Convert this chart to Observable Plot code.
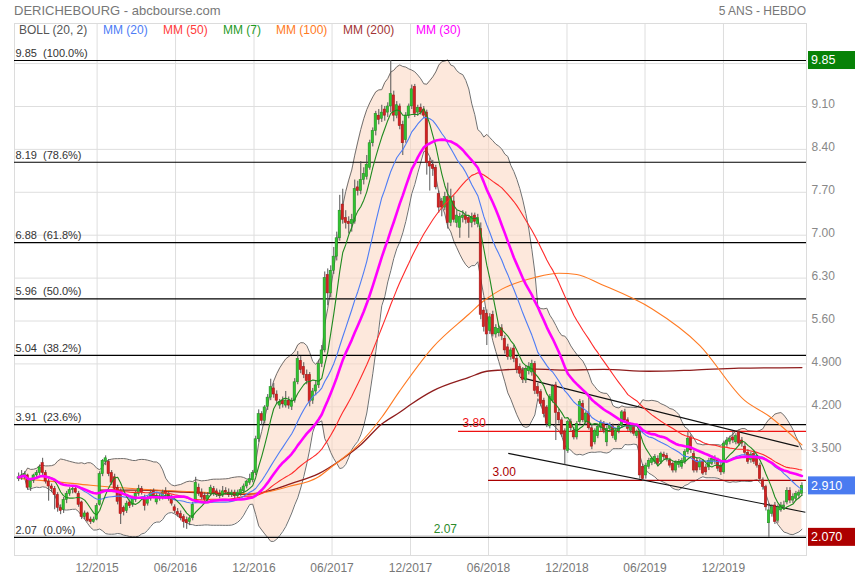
<!DOCTYPE html>
<html><head><meta charset="utf-8">
<script src="https://cdn.jsdelivr.net/npm/d3@7"></script>
<script src="https://cdn.jsdelivr.net/npm/@observablehq/plot@0.6"></script>
<style>
body{margin:0;background:#fff;font-family:"Liberation Sans",Arial,sans-serif;}
#wrap{position:relative;width:855px;height:580px;overflow:hidden;}
.hd{position:absolute;top:4px;font-size:13px;line-height:14px;color:#777;white-space:nowrap;}
#chart{position:absolute;left:0;top:23px;}
.lg{position:absolute;top:23px;font-size:12px;line-height:14px;white-space:nowrap;}
</style></head>
<body><div id="wrap">
<div class="hd" style="left:14px">DERICHEBOURG - abcbourse.com</div>
<div class="hd" style="right:49px;font-size:12px">5 ANS - HEBDO</div>
<div id="chart"></div>
<div id="legend"></div>
</div>
<script>
// ---- weekly OHLC (one candle per week from 2015-06-01) ----
const open = [3.02,3.05,3.08,3.08,2.88,2.99,3.08,3.12,3.28,3.12,2.98,2.90,2.86,2.76,2.55,2.52,2.68,2.78,2.84,2.86,2.78,2.64,2.40,2.46,2.36,2.32,2.36,2.60,3.10,3.30,3.30,3.12,3.05,2.88,2.82,2.55,2.50,2.64,2.60,2.68,2.78,2.86,2.72,2.62,2.70,2.82,2.64,2.70,2.72,2.82,2.78,2.72,2.56,2.48,2.45,2.40,2.35,2.32,2.38,2.66,2.88,2.80,2.75,2.68,2.78,2.86,2.82,2.78,2.75,2.83,2.80,2.76,2.80,2.74,2.78,2.82,2.90,2.96,3.00,
3.12,3.67,4.08,3.97,4.20,4.35,4.50,4.40,4.22,4.30,4.22,4.30,4.20,4.30,4.60,4.95,4.85,4.72,4.72,4.30,4.45,4.55,4.90,5.12,6.35,6.05,6.42,6.65,6.95,7.50,7.28,7.22,7.18,7.22,7.78,7.72,7.90,7.95,8.10,8.50,8.70,8.95,8.90,9.05,9.00,9.10,9.28,8.95,9.10,8.80,8.55,8.95,9.10,9.42,9.00,9.08,9.05,
9.00,8.20,8.15,8.10,7.67,7.55,7.45,7.62,7.20,7.55,7.20,7.12,7.28,7.32,7.28,7.20,7.32,7.18,7.10,5.77,5.72,5.44,5.70,5.38,5.40,5.48,5.31,5.17,5.01,5.15,4.98,4.85,4.79,4.63,4.78,4.76,4.90,4.52,4.44,4.30,4.19,3.88,4.30,4.55,4.10,3.98,3.80,3.48,3.95,3.81,3.70,3.95,4.25,3.95,4.09,3.85,3.62,3.72,3.86,3.92,3.62,3.84,3.88,3.66,3.80,3.89,4.11,3.98,3.81,3.89,3.72,3.79,3.22,
3.08,3.22,3.28,3.30,3.35,3.30,3.42,3.40,3.32,3.27,3.16,3.25,3.22,3.30,3.46,3.70,3.43,3.32,3.21,3.30,3.21,3.21,3.27,3.32,3.32,3.24,3.13,3.58,3.63,3.70,3.62,3.79,3.65,3.55,3.45,3.33,3.43,3.35,3.24,3.00,2.89,2.30,2.45,2.59,2.34,2.51,2.56,2.64,2.83,2.67,2.70,2.75,2.78];
const high = [3.12,3.16,3.14,3.10,3.02,3.10,3.16,3.25,3.36,3.16,3.02,2.94,2.90,2.80,2.60,2.72,2.82,2.88,2.90,2.90,2.82,2.66,2.50,2.48,2.40,2.40,2.62,3.14,3.34,3.40,3.34,3.16,3.10,2.92,2.86,2.58,2.66,2.68,2.74,2.82,2.92,2.90,2.76,2.74,2.84,2.86,2.78,2.78,2.84,2.88,2.82,2.76,2.60,2.54,2.50,2.44,2.40,2.42,2.64,3.05,2.94,2.86,2.80,2.80,2.92,2.90,2.86,2.84,2.90,2.88,2.86,2.84,2.84,2.84,2.88,2.94,3.00,3.10,3.16,
3.72,4.15,4.12,4.22,4.40,4.65,4.58,4.46,4.32,4.36,4.45,4.36,4.34,4.66,5.10,5.02,4.92,4.80,4.76,4.50,4.62,4.96,5.20,6.40,6.45,6.50,6.80,7.05,7.65,7.75,7.40,7.30,7.34,7.90,7.88,8.20,8.10,8.30,8.55,8.75,9.02,9.05,9.12,9.10,9.16,9.85,9.35,9.18,9.14,8.86,9.00,9.14,9.45,9.46,9.12,9.14,9.10,
9.04,8.26,8.22,8.14,7.72,7.60,7.70,7.85,7.75,7.64,7.40,7.36,7.40,7.38,7.32,7.36,7.36,7.34,7.20,5.82,5.78,5.72,5.76,5.54,5.52,5.54,5.36,5.22,5.16,5.20,5.02,4.90,4.84,4.86,4.92,4.96,4.94,4.58,4.48,4.34,4.22,4.40,4.56,4.60,4.16,4.02,3.84,3.98,4.00,3.86,3.96,4.32,4.30,4.12,4.35,3.90,3.84,3.90,3.98,3.96,3.88,3.94,3.92,3.84,3.92,4.14,4.16,4.02,3.92,3.92,3.82,3.82,3.26,
3.28,3.36,3.38,3.42,3.40,3.46,3.46,3.44,3.36,3.30,3.32,3.34,3.36,3.50,3.78,3.74,3.48,3.36,3.34,3.34,3.26,3.36,3.40,3.40,3.36,3.28,3.64,3.70,3.72,3.80,3.76,3.82,3.70,3.60,3.50,3.46,3.48,3.40,3.28,3.04,2.92,2.62,2.60,2.64,2.60,2.64,2.66,2.88,2.88,2.78,2.82,2.84,2.96];
const low = [2.98,3.00,3.02,2.84,2.82,2.95,3.04,3.08,3.08,2.94,2.66,2.80,2.52,2.48,2.44,2.46,2.62,2.74,2.78,2.78,2.56,2.36,2.36,2.32,2.28,2.30,2.34,2.58,3.06,3.24,3.06,2.92,2.82,2.60,2.28,2.42,2.46,2.54,2.56,2.64,2.74,2.76,2.50,2.58,2.66,2.70,2.60,2.66,2.68,2.74,2.66,2.58,2.46,2.40,2.34,2.22,2.20,2.26,2.34,2.62,2.74,2.68,2.64,2.64,2.74,2.74,2.72,2.70,2.72,2.76,2.72,2.72,2.70,2.70,2.74,2.78,2.86,2.92,2.96,
3.08,3.62,3.90,3.92,4.14,4.30,4.34,4.24,4.16,4.18,4.18,4.16,4.14,4.26,4.56,4.74,4.66,4.56,4.20,4.24,4.38,4.50,4.84,5.08,5.85,5.98,6.36,6.58,6.90,7.18,7.10,7.02,7.05,7.18,7.64,7.66,7.82,7.90,8.06,8.44,8.62,8.80,8.84,8.86,8.92,9.00,8.85,8.90,8.72,8.30,8.50,8.90,9.05,8.92,8.94,8.96,8.90,
7.98,7.72,7.96,7.74,7.36,7.30,7.40,7.10,7.14,7.20,7.12,6.95,7.20,7.18,6.95,7.12,7.16,7.12,5.62,5.42,5.20,5.38,5.34,5.32,5.34,5.28,5.06,4.96,4.96,4.92,4.74,4.68,4.58,4.58,4.72,4.70,4.40,4.36,4.20,4.02,3.86,3.84,4.26,3.65,3.92,3.70,3.25,3.44,3.80,3.66,3.66,3.90,3.94,3.90,3.82,3.50,3.58,3.68,3.80,3.76,3.55,3.78,3.68,3.62,3.76,3.86,3.94,3.80,3.76,3.72,3.68,3.02,2.98,
3.02,3.18,3.24,3.26,3.22,3.26,3.34,3.30,3.20,3.12,3.12,3.20,3.18,3.26,3.42,3.44,3.12,3.12,3.16,3.08,3.08,3.16,3.24,3.26,3.14,3.08,3.10,3.54,3.58,3.60,3.58,3.56,3.54,3.40,3.26,3.28,3.26,3.20,2.98,2.84,2.50,2.07,2.40,2.28,2.30,2.48,2.52,2.60,2.62,2.62,2.66,2.70,2.74];
const close = [3.05,3.08,3.10,2.88,2.99,3.08,3.12,3.21,3.12,2.98,2.90,2.86,2.76,2.55,2.50,2.68,2.78,2.84,2.86,2.80,2.60,2.40,2.46,2.34,2.32,2.36,2.58,3.10,3.32,3.36,3.10,2.96,2.86,2.65,2.45,2.48,2.62,2.58,2.70,2.78,2.86,2.80,2.58,2.70,2.80,2.74,2.75,2.74,2.80,2.78,2.70,2.62,2.50,2.44,2.38,2.32,2.30,2.38,2.60,2.96,2.78,2.72,2.68,2.75,2.88,2.78,2.76,2.74,2.82,2.80,2.76,2.80,2.74,2.80,2.84,2.90,2.98,3.02,3.12,
3.67,4.08,3.97,4.19,4.35,4.52,4.40,4.30,4.28,4.24,4.30,4.22,4.30,4.60,4.98,4.80,4.72,4.62,4.28,4.45,4.55,4.90,5.12,6.30,6.05,6.42,6.65,6.95,7.40,7.25,7.20,7.18,7.25,7.75,7.72,7.90,8.00,8.15,8.50,8.70,8.98,8.88,9.00,8.95,9.10,9.30,8.95,9.12,8.78,8.50,8.95,9.10,9.38,8.98,9.08,9.00,8.95,
8.18,8.12,8.08,7.78,7.45,7.45,7.62,7.20,7.62,7.25,7.32,7.30,7.32,7.25,7.20,7.30,7.22,7.28,5.70,5.50,5.38,5.66,5.38,5.49,5.47,5.35,5.12,5.01,5.12,4.98,4.80,4.74,4.64,4.82,4.85,4.90,4.46,4.41,4.25,4.08,3.92,4.36,4.52,4.10,3.98,3.75,3.50,3.95,3.85,3.70,3.92,4.28,3.98,4.09,3.85,3.55,3.81,3.87,3.94,3.81,3.84,3.89,3.72,3.81,3.88,4.11,3.98,3.84,3.89,3.76,3.79,3.08,3.02,
3.24,3.32,3.35,3.38,3.27,3.43,3.38,3.35,3.24,3.16,3.28,3.30,3.32,3.46,3.68,3.49,3.16,3.16,3.30,3.11,3.13,3.32,3.35,3.34,3.19,3.13,3.60,3.65,3.68,3.65,3.72,3.60,3.60,3.45,3.30,3.42,3.30,3.24,3.02,2.89,2.56,2.51,2.56,2.32,2.56,2.59,2.59,2.83,2.67,2.73,2.78,2.80,2.91];

// ---- long moving averages (week index, value) ----
const ma100Week = [0,12,24,40,60,78,90,100,104,113,121,127,138,150,155,161,172,180,186,194,211,227,242,250,261];
const ma100Val  = [3.03,2.98,2.92,2.86,2.81,2.78,2.90,3.06,3.21,3.57,4.03,4.46,5.17,5.71,5.93,6.12,6.31,6.38,6.36,6.20,5.80,5.20,4.30,4.05,3.58];
const ma200Week = [27,40,55,65,74,81,91,100,107,114,121,127,131,138,150,156,161,170,181,195,210,225,240,261];
const ma200Val  = [2.84,2.84,2.81,2.79,2.77,2.80,2.95,3.11,3.32,3.58,3.92,4.11,4.25,4.46,4.68,4.78,4.80,4.82,4.80,4.81,4.78,4.80,4.83,4.84];

// ---- Fibonacci retracement levels ----
const fibValues = [9.85, 8.19, 6.88, 5.96, 5.04, 3.91, 2.07];
const fibPct = ["100.0%", "78.6%", "61.8%", "50.0%", "38.2%", "23.6%", "0.0%"];

// ---- support / resistance & channel ----
const levelValues = [3.80, 3.00];
const levelStart = ["2018-03-23", "2018-06-01"];
const levelColors = ["#ee1111", "#aa0000"];
const lowLabelValue = 2.07, lowLabelDate = "2018-01-24";
const trendStart = ["2018-08-14", "2018-07-17"];
const trendEnd = ["2020-05-24", "2020-06-09"];
const trendV1 = [4.68, 3.44];
const trendV2 = [3.55, 2.48];

// ---- axes ----
const xTickDates = ["2015-12-01","2016-06-01","2016-12-01","2017-06-01","2017-12-01","2018-06-01","2018-12-01","2019-06-01","2019-12-01"];
const xTickLabels = ["12/2015","06/2016","12/2016","06/2017","12/2017","06/2018","12/2018","06/2019","12/2019"];
const yTicks = [2.1, 2.8, 3.5, 4.2, 4.9, 5.6, 6.3, 7.0, 7.7, 8.4, 9.1, 9.8];

// ---- legend ----
const legendNames = ["BOLL (20, 2)", "MM (20)", "MM (50)", "MM (7)", "MM (100)", "MM (200)", "MM (30)"];
const legendColors = ["#555555", "#4d7cf5", "#ff3b3b", "#1f9a1f", "#ff7a22", "#a33434", "#ff00ff"];
const legendLeft = [19, 103, 163, 223, 276, 343, 416];

// ---------------------------------------------------------------
const start = Date.UTC(2015, 5, 1);
const DAY = 864e5;
const dateOf = i => new Date(start + i * 7 * DAY);
const pd = s => new Date(s + "T00:00:00Z");
const fmt = v => v < 5 ? v.toFixed(3) : v.toFixed(2);

const candles = close.map((c, i) => ({date: dateOf(i), o: open[i], h: high[i], l: low[i], c}));

function sma(arr, k) {
  return arr.map((_, i) => d3.mean(arr.slice(Math.max(0, i - k + 1), i + 1)));
}
const m7 = sma(close, 7), m20 = sma(close, 20), m30 = sma(close, 30), m50 = sma(close, 50);
const ind = close.map((c, i) => {
  const w = close.slice(Math.max(0, i - 19), i + 1);
  const m = d3.mean(w);
  const sd = Math.sqrt(d3.mean(w, v => (v - m) ** 2));
  return {date: dateOf(i), m7: m7[i], m20: m20[i], m30: m30[i], m50: m50[i], up: m + 2 * sd, lo: m - 2 * sd};
});
const ma100 = ma100Week.map((w, j) => ({date: dateOf(w), v: ma100Val[j]}));
const ma200 = ma200Week.map((w, j) => ({date: dateOf(w), v: ma200Val[j]}));

const x0 = new Date(Date.UTC(2015, 4, 22, 8)), x1 = new Date(Date.UTC(2020, 5, 11, 16));
const msPerPx = (x1 - x0) / 792;
const hw = 1.15 * msPerPx;

// value boxes on the right axis (max high, last close, min low)
const boxes = [
  {v: d3.max(high), color: "#078207"},
  {v: close[close.length - 1], color: "#4a7bf0"},
  {v: d3.min(low), color: "#ad0000"}
];
const pxPerUnit = 532 / (10.454 - 1.774);
// tick labels hidden behind a value box are not drawn (the box covers them)
const shownTicks = yTicks.filter(t => boxes.every(b => Math.abs(t - b.v) * pxPerUnit > 11));

const fib = fibValues.map((v, j) => ({v, label: v.toFixed(2) + "\u00a0\u00a0(" + fibPct[j] + ")"}));
const levels = levelValues.map((v, j) => ({v, d: pd(levelStart[j]), color: levelColors[j]}));
const trends = trendV1.map((v, j) => ({a: pd(trendStart[j]), b: pd(trendEnd[j]), v1: v, v2: trendV2[j]}));
const xt = xTickDates.map((d, j) => ({d: pd(d), label: xTickLabels[j]}));

const plot = Plot.plot({
  width: 855, height: 557,
  marginLeft: 14, marginRight: 49, marginTop: 0, marginBottom: 25,
  x: {type: "utc", domain: [x0, x1], axis: null},
  y: {domain: [1.774, 10.454], axis: null},
  style: {fontFamily: "Liberation Sans, Arial, sans-serif", background: "white", overflow: "visible"},
  marks: [
    Plot.ruleX(xt, {x: "d", stroke: "#dedede"}),
    Plot.ruleY(yTicks, {stroke: "#dedede"}),
    Plot.frame({stroke: "#dcdcdc"}),
    Plot.areaY(ind, {x: "date", y1: "lo", y2: "up", fill: "#fbd6c0", fillOpacity: 0.55, curve: "linear"}),
    Plot.lineY(ind, {x: "date", y: "up", stroke: "#707070", strokeWidth: 1}),
    Plot.lineY(ind, {x: "date", y: "lo", stroke: "#707070", strokeWidth: 1}),
    Plot.ruleY(fib, {y: "v", stroke: "#000", strokeWidth: 1.2}),
    Plot.text(fib, {y: "v", text: "label", frameAnchor: "left", textAnchor: "start", dx: 1, dy: -7, fill: "#333", fontSize: 11}),
    Plot.ruleY(levels, {y: "v", x1: "d", x2: () => x1, stroke: "color", strokeWidth: 1.1, strokeDasharray: (d, j) => j === 0 ? "4,3" : null}),
    Plot.text(levels, {x: "d", y: "v", text: d => d.v.toFixed(2), fill: "color", textAnchor: "start", dx: 4, dy: -8, fontSize: 12}),
    Plot.text([lowLabelValue], {x: () => pd(lowLabelDate), y: d => d, text: d => d.toFixed(2), fill: "#2a8a2a", textAnchor: "start", dy: -8, fontSize: 12}),
    Plot.link(trends, {x1: "a", y1: "v1", x2: "b", y2: "v2", stroke: "#111", strokeWidth: 1.1}),
    Plot.lineY(ma200, {x: "date", y: "v", stroke: "#8f1d1d", strokeWidth: 1.3, curve: "monotone-x"}),
    Plot.lineY(ma100, {x: "date", y: "v", stroke: "#ff7a22", strokeWidth: 1.1, curve: "monotone-x"}),
    Plot.ruleX(candles, {x: "date", y1: "l", y2: "h", stroke: "#555", strokeWidth: 1}),
    Plot.rect(candles, {x1: d => new Date(+d.date - hw), x2: d => new Date(+d.date + hw), y1: "o", y2: "c",
      fill: d => d.c >= d.o ? "#2fc42f" : "#d42020", stroke: d => d.c >= d.o ? "#1c861c" : "#9a1414", strokeWidth: 0.5}),
    Plot.lineY(ind, {x: "date", y: "m50", stroke: "#ff2b2b", strokeWidth: 1.1}),
    Plot.lineY(ind, {x: "date", y: "m20", stroke: "#4d7cf5", strokeWidth: 1.1}),
    Plot.lineY(ind, {x: "date", y: "m7", stroke: "#1f8a1f", strokeWidth: 1.1}),
    Plot.lineY(ind, {x: "date", y: "m30", stroke: "#ff00ff", strokeWidth: 2.6}),
    Plot.text(shownTicks, {y: d => d, text: d => fmt(d), frameAnchor: "right", textAnchor: "start", dx: 5, dy: -2, fill: "#888", fontSize: 12}),
    Plot.text(xt, {x: "d", text: "label", frameAnchor: "bottom", dy: 16, fill: "#777", fontSize: 12})
  ]
});
document.getElementById("chart").appendChild(plot);

// draw the value boxes with the plot's own y scale
const ys = plot.scale("y");
const svg = d3.select(plot);
for (const b of boxes) {
  const y = ys.apply(b.v);
  svg.append("rect").attr("x", 808).attr("y", y - 9).attr("width", 47).attr("height", 18).attr("fill", b.color);
  svg.append("text").attr("x", 811).attr("y", y).attr("dy", "0.35em").attr("fill", "#fff")
    .attr("text-anchor", "start").attr("font-size", 12.5)
    .attr("font-family", "Liberation Sans, Arial, sans-serif").text(fmt(b.v));
}

// legend row
const lg = document.getElementById("legend");
legendNames.forEach((n, j) => {
  const s = document.createElement("div");
  s.className = "lg"; s.style.left = legendLeft[j] + "px"; s.style.color = legendColors[j];
  s.textContent = n; lg.appendChild(s);
});
</script>
</body></html>
